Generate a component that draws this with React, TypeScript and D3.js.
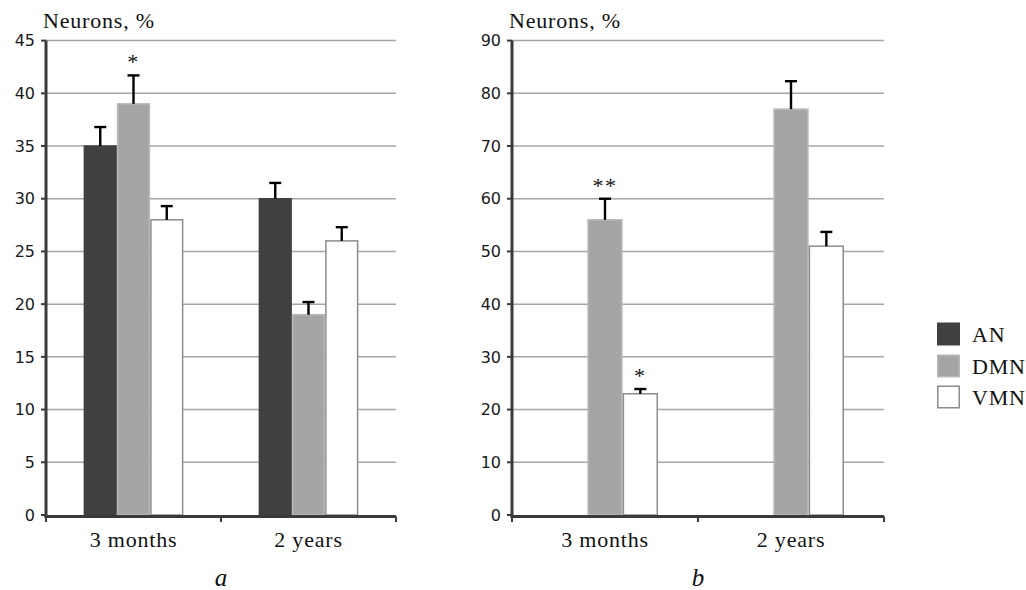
import React from 'react';
import * as d3 from 'd3';

const categories = ['3 months', '2 years'];
const seriesNames = ['AN', 'DMN', 'VMN'];
const seriesColors = ['#404040', '#a5a5a5', '#ffffff'];
const seriesStrokes = ['#404040', '#b8b8b8', '#8c8c8c'];

// Panel a
const anA = [35, 30];
const dmnA = [39, 19];
const vmnA = [28, 26];
const anAErr = [1.8, 1.5];
const dmnAErr = [2.7, 1.2];
const vmnAErr = [1.3, 1.3];
const ticksA = [0, 5, 10, 15, 20, 25, 30, 35, 40, 45];
const marksA = [{ cat: 0, series: 1, label: '*' }];

// Panel b
const anB = [0, 0];
const dmnB = [56, 77];
const vmnB = [23, 51];
const anBErr = [0, 0];
const dmnBErr = [4, 5.3];
const vmnBErr = [0.9, 2.7];
const ticksB = [0, 10, 20, 30, 40, 50, 60, 70, 80, 90];
const marksB = [
  { cat: 0, series: 1, label: '**' },
  { cat: 0, series: 2, label: '*' },
];

const SERIF = 'Liberation Serif';
const SANS = 'DejaVu Sans';

type PanelProps = {
  x0: number;
  x1: number;
  top: number;
  bottom: number;
  ticks: number[];
  values: number[][];
  errors: number[][];
  marks: { cat: number; series: number; label: string }[];
  letter: string;
};

function Panel({ x0, x1, top, bottom, ticks, values, errors, marks, letter }: PanelProps) {
  const y = d3.scaleLinear().domain([0, ticks[ticks.length - 1]]).range([bottom, top]);
  const x = d3.scaleBand<string>().domain(categories).range([x0, x1]).padding(0);
  const w = x.bandwidth() * 0.19;
  const barX = (c: number, s: number) => (x(categories[c]) as number) + x.bandwidth() / 2 - 1.5 * w + s * w;
  const axisColor = '#3a3a3a';
  return (
    <g>
      {ticks.filter((t) => t !== 0).map((t) => (
        <line key={'g' + t} x1={x0} x2={x1} y1={y(t)} y2={y(t)} stroke="#a6a6a6" strokeWidth={1.5} />
      ))}
      {ticks.map((t) => (
        <g key={'t' + t}>
          <line x1={x0 - 5} x2={x0} y1={y(t)} y2={y(t)} stroke={axisColor} strokeWidth={2} />
          <text x={x0 - 11} y={y(t)} dy="0.36em" textAnchor="end" fontFamily={SANS} fontSize={16} fill="#1a1a1a">
            {t}
          </text>
        </g>
      ))}
      {values.map((vals, s) =>
        vals.map((v, c) =>
          v > 0 ? (
            <rect
              key={'b' + s + c}
              x={barX(c, s) + 0.75}
              y={y(v)}
              width={w - 1.5}
              height={y(0) - y(v)}
              fill={seriesColors[s]}
              stroke={seriesStrokes[s]}
              strokeWidth={1.5}
            />
          ) : null
        )
      )}
      {values.map((vals, s) =>
        vals.map((v, c) => {
          const e = errors[s][c];
          if (!(v > 0) || !(e > 0)) return null;
          const cx = barX(c, s) + w / 2;
          return (
            <g key={'e' + s + c} stroke="#000" strokeWidth={2.4}>
              <line x1={cx} x2={cx} y1={y(v)} y2={y(v + e)} />
              <line x1={cx - 6} x2={cx + 6} y1={y(v + e)} y2={y(v + e)} />
            </g>
          );
        })
      )}
      {marks.map((m, i) => {
        const v = values[m.series][m.cat] + errors[m.series][m.cat];
        const cx = barX(m.cat, m.series) + w / 2;
        return (
          <text key={'m' + i} x={cx} y={y(v) - 6} textAnchor="middle" fontFamily={SERIF} fontSize={22} letterSpacing={1.5} fill="#111">
            {m.label}
          </text>
        );
      })}
      <line x1={x0} x2={x0} y1={top} y2={bottom + 2.5} stroke={axisColor} strokeWidth={3} />
      <line x1={x0 - 1.5} x2={x1} y1={bottom + 1.5} y2={bottom + 1.5} stroke={axisColor} strokeWidth={3} />
      {[x0, ...categories.map((c) => (x(c) as number) + x.bandwidth())].map((tx, i) => (
        <line key={'xt' + i} x1={tx} x2={tx} y1={bottom + 1.5} y2={bottom + 7} stroke={axisColor} strokeWidth={2} />
      ))}
      {categories.map((c) => (
        <text key={'c' + c} x={(x(c) as number) + x.bandwidth() / 2} y={547} textAnchor="middle" fontFamily={SERIF} fontSize={22} letterSpacing={0.8} fill="#111">
          {c}
        </text>
      ))}
      <text x={x0 - 3} y={28} fontFamily={SERIF} fontSize={22} letterSpacing={0.8} fill="#111">
        Neurons, %
      </text>
      <text x={(x0 + x1) / 2} y={586} textAnchor="middle" fontFamily={SERIF} fontStyle="italic" fontSize={25} fill="#111">
        {letter}
      </text>
    </g>
  );
}

export default function App() {
  const top = 40.6;
  const bottom = 515;
  const legendY = [334, 366, 397];
  return (
    <svg width={1026} height={590} style={{ position: 'absolute', left: 0, top: 0, background: '#fff' }}>
      <rect width={1026} height={590} fill="#fff" />
      <Panel
        x0={46}
        x1={396}
        top={top}
        bottom={bottom}
        ticks={ticksA}
        values={[anA, dmnA, vmnA]}
        errors={[anAErr, dmnAErr, vmnAErr]}
        marks={marksA}
        letter="a"
      />
      <Panel
        x0={512}
        x1={884}
        top={top}
        bottom={bottom}
        ticks={ticksB}
        values={[anB, dmnB, vmnB]}
        errors={[anBErr, dmnBErr, vmnBErr]}
        marks={marksB}
        letter="b"
      />
      {seriesNames.map((n, i) => (
        <g key={n}>
          <rect x={937.75} y={legendY[i] - 10.75} width={21.5} height={21.5} fill={seriesColors[i]} stroke={seriesStrokes[i]} strokeWidth={1.5} />
          <text x={972} y={legendY[i]} dy="0.35em" fontFamily={SERIF} fontSize={22} letterSpacing={0.8} fill="#111">
            {n}
          </text>
        </g>
      ))}
    </svg>
  );
}
